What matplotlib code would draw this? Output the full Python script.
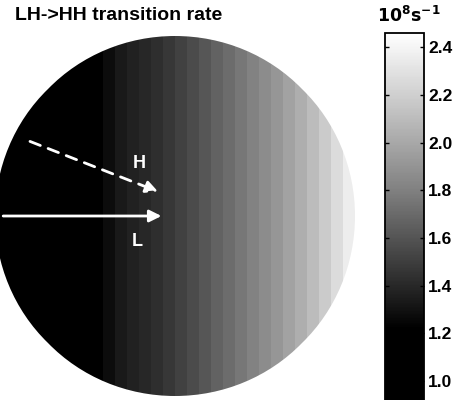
import matplotlib
matplotlib.use('Agg')
import matplotlib.pyplot as plt
import numpy as np
from matplotlib.colors import LinearSegmentedColormap
from matplotlib.patches import Circle, FancyArrowPatch

plt.rcParams['font.family'] = ['Liberation Sans', 'DejaVu Sans']
plt.rcParams['font.weight'] = 'bold'

# LH->HH transition rate (10^8 s^-1), column by column across the disk, left to right
rate = [1.00, 1.01, 1.03, 1.05, 1.07, 1.09, 1.12, 1.16, 1.22, 1.28,
        1.33, 1.37, 1.40, 1.43, 1.47, 1.51, 1.56, 1.61, 1.66, 1.71,
        1.76, 1.81, 1.86, 1.91, 1.97, 2.03, 2.10, 2.18, 2.27, 2.36]
cbar_ticks = [1.0, 1.2, 1.4, 1.6, 1.8, 2.0, 2.2, 2.4]
vmin, vmax = 0.92, 2.46

cmap = LinearSegmentedColormap.from_list('halftone', [
    (0.0, 'black'),
    ((1.22 - vmin) / (vmax - vmin), 'black'),
    ((1.45 - vmin) / (vmax - vmin), '#333333'),
    ((1.8 - vmin) / (vmax - vmin), '#808080'),
    ((2.2 - vmin) / (vmax - vmin), '#cfcfcf'),
    (1.0, 'white'),
])

fig = plt.figure(figsize=(4.57, 4.0), dpi=100, facecolor='white')

# disk
ax = fig.add_axes([-5 / 457, 4 / 400, 360 / 457, 360 / 400])
ax.set_xlim(-1, 1)
ax.set_ylim(-1, 1)
ax.axis('off')

xe = np.linspace(-1, 1, len(rate) + 1)
ye = np.array([-1, 1])
mesh = ax.pcolormesh(xe, ye, np.array([rate]), cmap=cmap, vmin=vmin, vmax=vmax,
                     shading='flat')
disk = Circle((0, 0), 1, transform=ax.transData, facecolor='none', edgecolor='none')
ax.add_patch(disk)
mesh.set_clip_path(disk)

# polarisation arrows
ax.add_patch(FancyArrowPatch((-0.97, 0.0), (-0.06, 0.0), arrowstyle='-|>',
                             mutation_scale=18, color='white', lw=2))
ax.add_patch(FancyArrowPatch((-0.82, 0.42), (-0.08, 0.13), arrowstyle='-|>',
                             mutation_scale=18, color='white', lw=2,
                             linestyle=(0, (4, 3))))
ax.text(-0.2, 0.29, 'H', color='white', fontsize=13, fontweight='bold',
        ha='center', va='center')
ax.text(-0.21, -0.14, 'L', color='white', fontsize=13, fontweight='bold',
        ha='center', va='center')

fig.text(15 / 457, 1 - 15 / 400, 'LH->HH transition rate', fontsize=14,
         fontweight='bold', ha='left', va='center')

# colorbar
cax = fig.add_axes([385 / 457, 0.0, 39 / 457, 367 / 400])
cb = fig.colorbar(mesh, cax=cax, ticks=cbar_ticks)
cb.ax.set_ylim(vmin, vmax)
cb.outline.set_linewidth(1.3)
cb.ax.tick_params(labelsize=12.5, length=3, width=1, direction='in', pad=3,
                  left=True, right=True, labelleft=False, labelright=True)
cb.set_ticklabels([f'{v:.1f}' for v in cbar_ticks])
for t in cb.ax.get_yticklabels():
    t.set_fontweight('bold')
fig.text(409 / 457, 1 - 15 / 400, r'$\mathbf{10^8 s^{-1}}$', fontsize=12.5,
         ha='center', va='center')

fig.savefig('out.png', dpi=100)
